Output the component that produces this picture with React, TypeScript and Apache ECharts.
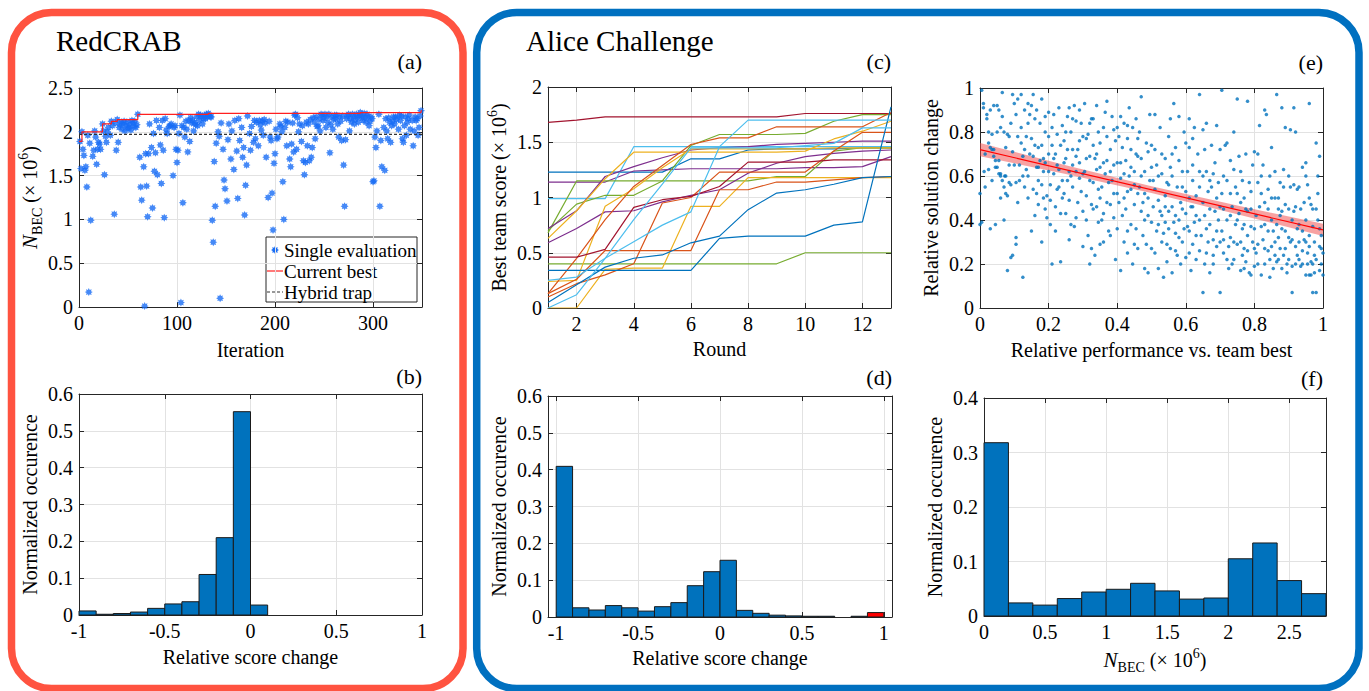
import React, { useEffect, useRef } from 'react';
import * as echarts from 'echarts';

const FONT = 'Liberation Serif, Times New Roman, serif';
const INK = '#262626';
const GRIDLINE = '#E2E2E2';
const BAR_BLUE = '#0072BD';
const EVAL_BLUE = '#176CF5';
const BEST_RED = '#FF2020';
const TRAP_GRAY = '#333333';
const FRAME_RED = '#FF5340';
const FRAME_BLUE = '#0070C0';

// ---------- (a) RedCRAB: single evaluations over iterations ----------
const redcrabEvals: [number, number][] = [
  [1, 1.89], [2, 1.58], [3, 2.0], [4, 1.8], [5, 1.73], [6, 1.56], [7, 1.6], [8, 1.37], [9, 1.96], [10, 0.17],
  [11, 1.87], [12, 0.99], [14, 1.72], [15, 1.79], [16, 2.01], [17, 1.94], [18, 1.63], [19, 1.8], [20, 1.88],
  [21, 1.86], [22, 1.8], [24, 2.09], [25, 2.01], [26, 1.51], [27, 1.95], [28, 1.88], [29, 2.0], [30, 2.05],
  [32, 1.96], [33, 2.12], [34, 2.07], [36, 1.06], [37, 2.1], [38, 1.79], [39, 2.14], [40, 1.88], [41, 2.05],
  [42, 2.08], [43, 2.11], [44, 2.03], [45, 2.09], [46, 2.12], [47, 2.01], [48, 2.07], [49, 2.11], [50, 2.04],
  [51, 2.05], [52, 2.09], [53, 2.02], [54, 2.13], [55, 2.1], [56, 2.06], [57, 2.12], [58, 2.05], [59, 2.08],
  [60, 2.2], [62, 1.71], [63, 1.37], [64, 1.22], [66, 1.6], [67, 0.01], [68, 1.75], [69, 1.38], [70, 1.03],
  [71, 1.75], [72, 2.09], [74, 1.82], [75, 1.13], [76, 1.98], [77, 1.55], [78, 1.76], [79, 2.13], [80, 1.51],
  [82, 2.05], [83, 1.85], [84, 1.41], [85, 2.13], [86, 1.79], [87, 1.02], [88, 2.15], [89, 2.02], [90, 1.98],
  [92, 2.06], [93, 2.07], [94, 2.09], [96, 1.5], [97, 2.05], [98, 2.07], [99, 1.8], [100, 1.65], [101, 1.79],
  [102, 1.98], [103, 2.19], [104, 0.05], [105, 2.07], [106, 1.19], [107, 2.05], [108, 1.94], [109, 2.12],
  [110, 2.03], [111, 1.77], [112, 2.13], [113, 1.89], [114, 2.16], [115, 2.1], [116, 2.13], [117, 2.01],
  [118, 2.1], [119, 2.08], [120, 2.17], [121, 2.07], [122, 2.2], [123, 2.13], [124, 2.19], [125, 2.17],
  [126, 2.09], [127, 2.15], [128, 2.19], [129, 2.15], [130, 2.2], [131, 2.17], [132, 2.21], [133, 2.19],
  [134, 2.17], [135, 2.17], [136, 0.99], [137, 0.74], [138, 1.66], [139, 1.15], [140, 1.87], [142, 2.0],
  [143, 1.95], [144, 0.1], [145, 2.1], [147, 1.8], [148, 1.45], [149, 1.35], [151, 1.21], [152, 1.91],
  [153, 2.09], [155, 1.69], [156, 2.01], [158, 1.57], [159, 2.13], [161, 1.78], [162, 1.24], [163, 2.15],
  [164, 1.9], [166, 2.05], [167, 1.71], [168, 1.82], [169, 1.05], [170, 1.39], [171, 1.62], [172, 2.18],
  [174, 1.98], [175, 1.79], [176, 2.06], [178, 1.88], [179, 2.13], [180, 1.92], [181, 2.11], [183, 1.84],
  [184, 2.13], [185, 2.08], [186, 2.02], [187, 2.12], [188, 1.96], [189, 2.14], [190, 2.1], [191, 1.71],
  [193, 1.25], [194, 2.12], [195, 1.94], [196, 1.9], [197, 1.3], [198, 0.88], [199, 1.64], [200, 1.75],
  [201, 2.03], [202, 1.92], [203, 1.94], [205, 2.09], [206, 2.06], [207, 2.0], [208, 1.43], [209, 1.0],
  [210, 2.05], [211, 2.12], [212, 1.84], [213, 2.11], [215, 1.69], [216, 1.6], [217, 1.86], [218, 2.1],
  [219, 1.77], [220, 2.19], [221, 2.2], [222, 1.8], [223, 2.16], [224, 2.0], [225, 2.09], [227, 1.89],
  [228, 2.07], [229, 1.67], [230, 1.51], [231, 1.65], [232, 2.11], [233, 1.84], [234, 2.09], [235, 1.67],
  [236, 2.14], [237, 1.71], [238, 1.82], [239, 2.16], [240, 2.11], [241, 1.92], [242, 2.17], [243, 2.06],
  [244, 2.07], [245, 2.14], [246, 2.01], [247, 2.2], [248, 2.19], [249, 2.13], [250, 2.16], [251, 2.2],
  [252, 2.05], [253, 2.17], [254, 2.11], [255, 2.2], [256, 1.76], [257, 2.08], [258, 2.17], [259, 2.03],
  [260, 2.14], [261, 2.19], [262, 2.15], [263, 2.19], [264, 2.09], [265, 1.94], [266, 2.17], [267, 2.12],
  [268, 1.9], [269, 2.18], [270, 1.62], [271, 1.15], [272, 1.91], [273, 2.15], [274, 2.18], [275, 2.2],
  [276, 2.01], [277, 2.15], [278, 2.11], [279, 2.2], [280, 2.17], [281, 2.09], [282, 2.14], [283, 2.2],
  [284, 2.17], [285, 2.11], [286, 2.18], [287, 2.22], [288, 2.19], [289, 2.16], [290, 2.13], [291, 2.21],
  [292, 2.16], [293, 2.11], [294, 2.2], [295, 2.17], [296, 2.07], [297, 2.12], [298, 2.17], [299, 2.15],
  [300, 1.43], [301, 1.44], [302, 1.94], [303, 1.82], [304, 2.01], [306, 2.2], [307, 1.15], [308, 1.9],
  [309, 1.6], [311, 2.05], [312, 1.56], [313, 2.15], [314, 2.01], [315, 1.92], [316, 2.16], [317, 2.11],
  [318, 1.88], [319, 2.07], [320, 2.12], [321, 2.17], [322, 2.09], [323, 2.17], [324, 2.14], [326, 2.03],
  [327, 2.19], [328, 2.13], [329, 2.18], [330, 1.92], [331, 1.88], [332, 2.07], [333, 2.17], [334, 1.96],
  [335, 2.11], [336, 2.15], [337, 2.19], [338, 2.03], [340, 2.13], [341, 1.84], [342, 2.01], [343, 2.17],
  [344, 2.13], [345, 2.15], [346, 1.96], [347, 2.05], [348, 2.18], [349, 2.24],
];
// best value found so far (step function)
const currentBest: [number, number][] = [
  [0, 1.89], [3, 2.0], [24, 2.09], [33, 2.12], [39, 2.14], [60, 2.2], [132, 2.21], [287, 2.22], [349, 2.24], [350, 2.24],
];
const hybridTrapLevel = 1.97;
const iterationTicks = [0, 100, 200, 300];
const legendLabels = ['Single evaluation', 'Current best', 'Hybrid trap'];

// ---------- histograms ----------
const scoreEdges = [-1, -0.9, -0.8, -0.7, -0.6, -0.5, -0.4, -0.3, -0.2, -0.1, 0, 0.1, 0.2, 0.3, 0.4, 0.5, 0.6, 0.7, 0.8, 0.9, 1];
// (b) RedCRAB relative score change
const redcrabScoreHist = [0.011, 0.002, 0.004, 0.008, 0.018, 0.03, 0.036, 0.11, 0.21, 0.552, 0.027, 0, 0, 0, 0, 0, 0, 0, 0, 0];
// (d) Alice Challenge relative score change
const aliceScoreHist = [0.409, 0.025, 0.019, 0.031, 0.025, 0.016, 0.028, 0.039, 0.085, 0.123, 0.154, 0.018, 0.01, 0.005, 0.003, 0.002, 0.002, 0, 0.002, 0.012];
const aliceHighlightBin = 19;
// (f) Alice Challenge N_BEC distribution
const nbecEdges = [0, 0.2, 0.4, 0.6, 0.8, 1.0, 1.2, 1.4, 1.6, 1.8, 2.0, 2.2, 2.4, 2.6, 2.8];
const nbecHist = [0.318, 0.024, 0.02, 0.032, 0.044, 0.049, 0.06, 0.046, 0.031, 0.033, 0.105, 0.134, 0.065, 0.041];

// ---------- (c) best team score per round ----------
const rounds = [1, 2, 3, 4, 5, 6, 7, 8, 9, 10, 11, 12, 13];
const teamScores: number[][] = [
  [1.68, 1.7, 1.73, 1.73, 1.73, 1.73, 1.73, 1.73, 1.73, 1.76, 1.76, 1.76, 1.76],
  [1.23, 1.23, 1.23, 1.23, 1.23, 1.35, 1.35, 1.43, 1.44, 1.44, 1.44, 1.45, 1.45],
  [1.14, 1.14, 1.14, 1.24, 1.25, 1.26, 1.26, 1.26, 1.26, 1.27, 1.27, 1.28, 1.37],
  [0.99, 0.99, 0.99, 1.46, 1.46, 1.46, 1.46, 1.46, 1.46, 1.46, 1.46, 1.46, 1.46],
  [0.4, 0.4, 0.4, 0.4, 0.4, 0.4, 0.4, 0.4, 0.4, 0.5, 0.5, 0.5, 0.5],
  [0.68, 1.15, 1.15, 1.15, 1.15, 1.15, 1.15, 1.15, 1.19, 1.19, 1.42, 1.45, 1.45],
  [0.7, 0.94, 1.02, 1.02, 1.15, 1.47, 1.57, 1.57, 1.57, 1.58, 1.69, 1.75, 1.75],
  [0.72, 0.88, 1.19, 1.28, 1.36, 1.43, 1.45, 1.46, 1.48, 1.49, 1.5, 1.51, 1.51],
  [0.59, 0.72, 0.87, 0.88, 0.96, 1.02, 1.07, 1.22, 1.31, 1.37, 1.4, 1.42, 1.43],
  [0.63, 0.88, 1.17, 1.41, 1.41, 1.41, 1.41, 1.41, 1.41, 1.42, 1.53, 1.6, 1.69],
  [0.24, 0.25, 0.92, 1.08, 1.27, 1.44, 1.44, 1.44, 1.44, 1.44, 1.45, 1.45, 1.45],
  [0.0, 0.0, 0.35, 0.36, 0.36, 0.92, 0.92, 1.18, 1.18, 1.18, 1.18, 1.18, 1.18],
  [0.13, 0.45, 0.8, 1.1, 1.29, 1.48, 1.54, 1.54, 1.64, 1.64, 1.64, 1.64, 1.77],
  [0.1, 0.22, 0.3, 0.4, 0.95, 1.0, 1.23, 1.23, 1.23, 1.23, 1.42, 1.59, 1.59],
  [0.13, 0.26, 0.52, 0.52, 0.52, 0.52, 1.07, 1.07, 1.14, 1.14, 1.16, 1.18, 1.19],
  [0.46, 0.46, 0.53, 0.91, 0.98, 1.01, 1.1, 1.32, 1.32, 1.32, 1.34, 1.34, 1.34],
  [0.34, 0.34, 0.34, 0.34, 0.34, 0.34, 0.63, 0.65, 0.65, 0.65, 0.75, 0.78, 1.82],
  [0.05, 0.21, 0.37, 0.45, 0.48, 0.59, 0.65, 0.89, 1.04, 1.07, 1.12, 1.18, 1.19],
  [0.25, 0.28, 0.45, 0.6, 0.75, 0.87, 1.46, 1.7, 1.7, 1.7, 1.7, 1.7, 1.7],
  [0.0, 0.12, 0.45, 0.8, 1.12, 1.45, 1.45, 1.45, 1.45, 1.47, 1.49, 1.63, 1.63],
];
const teamColors = [
  '#A2142F', '#0072BD', '#7E2F8E', '#4DBEEE', '#77AC30', '#77AC30', '#77AC30', '#7E2F8E', '#7E2F8E', '#EDB120',
  '#EDB120', '#EDB120', '#D95319', '#D95319', '#D95319', '#A2142F', '#0072BD', '#0072BD', '#4DBEEE', '#4DBEEE',
];
const roundTicks = [2, 4, 6, 8, 10, 12];

// ---------- (e) solution change vs relative performance ----------
const solutionChange: [number, number][] = [
  [0.005, 0.99], [0.01, 0.93], [0.01, 0.91], [0.02, 0.86], [0.025, 0.8], [0.03, 0.73], [0.035, 0.72], [0.04, 0.69],
  [0.045, 0.67], [0.05, 0.64], [0.055, 0.61], [0.06, 0.6], [0.065, 0.58], [0.07, 0.55], [0.075, 0.52], [0.08, 0.51],
  [0.0, 0.38], [0.005, 0.39], [0.03, 0.36], [0.045, 0.38], [0.07, 0.4], [0.08, 0.17], [0.09, 0.23], [0.095, 0.24],
  [0.065, 0.98], [0.07, 0.8], [0.08, 0.79], [0.085, 0.78], [0.09, 0.84], [0.095, 0.97], [0.1, 0.93], [0.06, 0.5],
  [0.072, 0.6], [0.075, 0.6], [0.085, 0.57], [0.095, 0.71], [0.02, 0.88], [0.03, 0.9], [0.035, 0.79], [0.04, 0.72],
  [0.045, 0.64], [0.05, 0.92], [0.055, 0.67], [0.06, 0.61], [0.065, 0.87], [0.075, 0.73], [0.085, 0.65], [0.09, 0.56],
  [0.015, 0.55], [0.025, 0.75], [0.05, 0.8], [0.0, 0.52], [0.012, 0.62], [0.04, 0.92],
  [0.015, 0.7], [0.025, 0.63], [0.035, 0.58], [0.055, 0.9], [0.06, 0.82], [0.1, 0.65],
  [0.105, 0.32], [0.105, 0.29], [0.11, 0.48], [0.11, 0.95], [0.12, 0.97], [0.115, 0.65], [0.12, 0.75], [0.125, 0.14],
  [0.13, 0.9], [0.13, 0.72], [0.135, 0.78], [0.14, 0.6], [0.14, 0.84], [0.145, 0.88], [0.15, 0.92], [0.155, 0.97],
  [0.155, 0.54], [0.16, 0.42], [0.165, 0.64], [0.165, 0.52], [0.17, 0.47], [0.17, 0.73], [0.175, 0.84], [0.18, 0.95],
  [0.18, 0.3], [0.185, 0.68], [0.19, 0.45], [0.19, 0.8], [0.195, 0.51], [0.2, 0.89], [0.2, 0.62], [0.12, 0.82],
  [0.125, 0.69], [0.145, 0.7], [0.16, 0.86], [0.175, 0.67], [0.185, 0.62], [0.195, 0.41], [0.105, 0.57], [0.11, 0.78],
  [0.13, 0.55], [0.135, 0.63], [0.14, 0.93], [0.15, 0.77], [0.155, 0.69], [0.165, 0.9], [0.17, 0.58], [0.18, 0.74],
  [0.19, 0.87], [0.2, 0.7], [0.185, 0.5], [0.15, 0.35],
  [0.105, 0.88], [0.115, 0.58], [0.125, 0.6], [0.14, 0.5], [0.16, 0.74], [0.17, 0.64], [0.18, 0.56], [0.19, 0.66],
  [0.2, 0.78],
  [0.205, 0.38], [0.21, 0.2], [0.21, 0.74], [0.215, 0.88], [0.22, 0.7], [0.22, 0.35], [0.225, 0.54], [0.23, 0.91],
  [0.23, 0.63], [0.235, 0.21], [0.24, 0.5], [0.24, 0.83], [0.245, 0.76], [0.25, 0.43], [0.25, 0.68], [0.255, 0.58],
  [0.26, 0.91], [0.26, 0.31], [0.265, 0.8], [0.27, 0.55], [0.27, 0.72], [0.275, 0.37], [0.28, 0.85], [0.28, 0.62],
  [0.285, 0.48], [0.29, 0.9], [0.29, 0.66], [0.295, 0.53], [0.3, 0.78], [0.3, 0.28], [0.215, 0.61], [0.225, 0.79],
  [0.245, 0.66], [0.255, 0.87], [0.265, 0.6], [0.285, 0.72], [0.3, 0.44], [0.22, 0.46], [0.205, 0.56], [0.21, 0.82],
  [0.225, 0.65], [0.235, 0.74], [0.24, 0.58], [0.25, 0.8], [0.26, 0.49], [0.27, 0.65], [0.275, 0.92], [0.28, 0.41],
  [0.29, 0.59], [0.295, 0.84], [0.235, 0.43], [0.265, 0.38],
  [0.205, 0.49], [0.215, 0.68], [0.23, 0.55], [0.245, 0.52], [0.255, 0.72], [0.26, 0.62], [0.27, 0.86], [0.28, 0.69],
  [0.29, 0.76], [0.3, 0.61],
  [0.305, 0.93], [0.31, 0.77], [0.31, 0.51], [0.315, 0.33], [0.32, 0.69], [0.32, 0.2], [0.325, 0.86], [0.33, 0.57],
  [0.33, 0.45], [0.335, 0.24], [0.34, 0.92], [0.34, 0.63], [0.345, 0.39], [0.35, 0.29], [0.35, 0.75], [0.355, 0.55],
  [0.36, 0.82], [0.36, 0.43], [0.365, 0.61], [0.37, 0.94], [0.37, 0.48], [0.375, 0.35], [0.38, 0.72], [0.38, 0.33],
  [0.385, 0.58], [0.39, 0.81], [0.39, 0.41], [0.395, 0.22], [0.4, 0.66], [0.4, 0.52], [0.315, 0.79], [0.335, 0.68],
  [0.355, 0.4], [0.37, 0.67], [0.385, 0.87], [0.395, 0.76], [0.325, 0.47], [0.345, 0.54], [0.305, 0.62], [0.31, 0.4],
  [0.32, 0.84], [0.33, 0.74], [0.34, 0.46], [0.35, 0.64], [0.36, 0.3], [0.365, 0.89], [0.375, 0.57], [0.38, 0.47],
  [0.39, 0.65], [0.4, 0.36], [0.345, 0.8], [0.325, 0.27],
  [0.31, 0.68], [0.32, 0.58], [0.33, 0.86], [0.34, 0.7], [0.35, 0.5], [0.36, 0.66], [0.37, 0.78], [0.38, 0.62],
  [0.39, 0.52], [0.4, 0.82],
  [0.405, 0.78], [0.41, 0.17], [0.41, 0.59], [0.415, 0.42], [0.42, 0.84], [0.42, 0.3], [0.425, 0.67], [0.43, 0.53],
  [0.43, 0.25], [0.435, 0.91], [0.44, 0.72], [0.44, 0.38], [0.445, 0.2], [0.45, 0.62], [0.45, 0.47], [0.455, 0.86],
  [0.46, 0.27], [0.46, 0.69], [0.465, 0.55], [0.47, 0.96], [0.47, 0.44], [0.475, 0.33], [0.48, 0.62], [0.48, 0.18],
  [0.485, 0.75], [0.49, 0.5], [0.49, 0.16], [0.495, 0.88], [0.5, 0.39], [0.5, 0.64], [0.415, 0.73], [0.435, 0.6],
  [0.455, 0.36], [0.465, 0.8], [0.475, 0.48], [0.485, 0.29], [0.495, 0.58], [0.425, 0.45], [0.405, 0.48], [0.41, 0.87],
  [0.42, 0.61], [0.43, 0.77], [0.44, 0.54], [0.45, 0.29], [0.455, 0.7], [0.46, 0.52], [0.47, 0.68], [0.48, 0.4],
  [0.49, 0.71], [0.5, 0.27], [0.445, 0.82], [0.43, 0.35],
  [0.41, 0.66], [0.42, 0.5], [0.43, 0.83], [0.44, 0.64], [0.45, 0.56], [0.46, 0.77], [0.47, 0.6], [0.48, 0.52],
  [0.49, 0.42], [0.5, 0.74],
  [0.505, 0.46], [0.51, 0.25], [0.51, 0.72], [0.515, 0.35], [0.52, 0.6], [0.52, 0.18], [0.525, 0.82], [0.53, 0.42],
  [0.53, 0.3], [0.535, 0.14], [0.54, 0.68], [0.54, 0.51], [0.545, 0.21], [0.55, 0.78], [0.55, 0.36], [0.555, 0.64],
  [0.56, 0.46], [0.56, 0.16], [0.565, 0.93], [0.57, 0.73], [0.57, 0.26], [0.575, 0.55], [0.58, 0.32], [0.58, 0.87],
  [0.585, 0.2], [0.59, 0.62], [0.59, 0.45], [0.595, 0.36], [0.6, 0.75], [0.6, 0.23], [0.515, 0.65], [0.535, 0.34],
  [0.545, 0.57], [0.565, 0.39], [0.575, 0.24], [0.585, 0.48], [0.525, 0.44], [0.555, 0.27], [0.505, 0.58], [0.51, 0.88],
  [0.52, 0.49], [0.53, 0.7], [0.54, 0.39], [0.55, 0.56], [0.555, 0.86], [0.56, 0.6], [0.57, 0.42], [0.58, 0.67],
  [0.59, 0.3], [0.6, 0.53], [0.545, 0.29], [0.595, 0.8],
  [0.51, 0.54], [0.52, 0.38], [0.53, 0.61], [0.54, 0.46], [0.55, 0.44], [0.56, 0.7], [0.57, 0.34], [0.58, 0.4],
  [0.59, 0.55], [0.6, 0.43],
  [0.605, 0.37], [0.61, 0.86], [0.61, 0.5], [0.615, 0.17], [0.62, 0.65], [0.62, 0.29], [0.625, 0.82], [0.63, 0.42],
  [0.63, 0.22], [0.635, 0.7], [0.64, 0.55], [0.64, 0.97], [0.645, 0.33], [0.65, 0.6], [0.65, 0.07], [0.655, 0.42],
  [0.66, 0.84], [0.66, 0.25], [0.665, 0.53], [0.67, 0.38], [0.67, 0.16], [0.675, 0.74], [0.68, 0.61], [0.68, 0.2],
  [0.685, 0.44], [0.69, 0.83], [0.69, 0.28], [0.695, 0.57], [0.7, 0.07], [0.7, 0.72], [0.61, 0.73], [0.625, 0.39],
  [0.64, 0.26], [0.655, 0.72], [0.67, 0.45], [0.68, 0.31], [0.695, 0.4], [0.62, 0.58], [0.605, 0.62], [0.61, 0.35],
  [0.62, 0.77], [0.63, 0.51], [0.64, 0.4], [0.65, 0.81], [0.655, 0.2], [0.66, 0.62], [0.665, 0.3], [0.675, 0.55],
  [0.685, 0.66], [0.69, 0.35], [0.7, 0.46], [0.615, 0.46],
  [0.61, 0.25], [0.62, 0.46], [0.63, 0.33], [0.64, 0.62], [0.65, 0.48], [0.66, 0.36], [0.67, 0.58], [0.68, 0.24],
  [0.69, 0.5], [0.7, 0.3],
  [0.705, 0.52], [0.705, 0.99], [0.71, 0.25], [0.715, 0.74], [0.72, 0.4], [0.72, 0.58], [0.725, 0.18], [0.73, 0.67],
  [0.73, 0.32], [0.735, 0.46], [0.74, 0.8], [0.74, 0.22], [0.745, 0.55], [0.75, 0.95], [0.75, 0.29], [0.755, 0.43],
  [0.76, 0.62], [0.76, 0.17], [0.765, 0.36], [0.77, 0.5], [0.77, 0.27], [0.775, 0.21], [0.78, 0.94], [0.78, 0.33],
  [0.785, 0.57], [0.79, 0.15], [0.79, 0.45], [0.795, 0.3], [0.8, 0.71], [0.8, 0.19], [0.71, 0.6], [0.725, 0.28],
  [0.745, 0.38], [0.755, 0.69], [0.765, 0.24], [0.775, 0.45], [0.785, 0.16], [0.795, 0.65], [0.705, 0.35], [0.71, 0.45],
  [0.72, 0.75], [0.73, 0.52], [0.735, 0.2], [0.74, 0.63], [0.75, 0.4], [0.76, 0.48], [0.765, 0.58], [0.77, 0.38],
  [0.78, 0.26], [0.79, 0.53], [0.8, 0.36], [0.775, 0.7],
  [0.71, 0.31], [0.72, 0.22], [0.73, 0.42], [0.74, 0.3], [0.75, 0.52], [0.76, 0.3], [0.77, 0.18], [0.78, 0.44],
  [0.79, 0.37], [0.8, 0.27],
  [0.805, 0.42], [0.81, 0.57], [0.81, 0.29], [0.815, 0.83], [0.82, 0.37], [0.82, 0.15], [0.825, 0.65], [0.83, 0.48],
  [0.83, 0.2], [0.835, 0.88], [0.84, 0.54], [0.84, 0.26], [0.845, 0.14], [0.85, 0.73], [0.85, 0.4], [0.855, 0.18],
  [0.86, 0.62], [0.86, 0.3], [0.865, 0.97], [0.87, 0.45], [0.87, 0.22], [0.875, 0.57], [0.88, 0.36], [0.88, 0.91],
  [0.885, 0.24], [0.89, 0.82], [0.89, 0.47], [0.895, 0.16], [0.9, 0.6], [0.9, 0.32], [0.815, 0.46], [0.825, 0.31],
  [0.845, 0.6], [0.855, 0.35], [0.865, 0.21], [0.875, 0.42], [0.885, 0.55], [0.895, 0.2], [0.83, 0.9], [0.87, 0.5],
  [0.805, 0.25], [0.81, 0.7], [0.82, 0.52], [0.83, 0.38], [0.84, 0.45], [0.85, 0.28], [0.86, 0.5], [0.865, 0.38],
  [0.875, 0.27], [0.88, 0.44], [0.89, 0.35], [0.9, 0.45], [0.845, 0.22], [0.885, 0.63],
  [0.81, 0.2], [0.82, 0.6], [0.83, 0.27], [0.84, 0.35], [0.85, 0.5], [0.86, 0.24], [0.87, 0.32], [0.88, 0.18],
  [0.89, 0.27], [0.9, 0.22],
  [0.905, 0.55], [0.905, 0.81], [0.91, 0.19], [0.915, 0.91], [0.915, 0.44], [0.92, 0.28], [0.92, 0.8], [0.925, 0.54],
  [0.93, 0.22], [0.93, 0.38], [0.935, 0.19], [0.94, 0.64], [0.94, 0.26], [0.945, 0.48], [0.95, 0.15], [0.95, 0.6],
  [0.955, 0.25], [0.96, 0.93], [0.96, 0.33], [0.965, 0.47], [0.97, 0.07], [0.97, 0.2], [0.975, 0.3], [0.98, 0.75],
  [0.98, 0.07], [0.985, 0.4], [0.99, 0.17], [0.99, 0.69], [0.995, 0.33], [1.0, 0.25], [1.0, 0.15], [0.995, 0.27],
  [0.91, 0.07], [0.925, 0.36], [0.945, 0.31], [0.955, 0.56], [0.965, 0.21], [0.975, 0.16], [0.985, 0.6], [0.935, 0.45],
  [0.905, 0.3], [0.91, 0.4], [0.92, 0.46], [0.925, 0.24], [0.93, 0.55], [0.94, 0.35], [0.95, 0.4], [0.955, 0.2],
  [0.96, 0.5], [0.97, 0.37], [0.975, 0.24], [0.98, 0.45], [0.99, 0.28], [0.995, 0.2], [0.96, 0.15],
  [0.91, 0.31], [0.92, 0.2], [0.93, 0.3], [0.94, 0.2], [0.95, 0.3], [0.96, 0.28], [0.97, 0.45], [0.98, 0.22],
  [0.99, 0.36], [0.95, 0.66], [0.915, 0.56], [0.985, 0.52], [0.965, 0.15],
];
// linear fit and its confidence band
const fitX = [0, 1];
const fitY = [0.72, 0.355];
const bandX = [0, 0.25, 0.5, 0.75, 1];
const bandLow = [0.69, 0.609, 0.523, 0.426, 0.327];
const bandHigh = [0.75, 0.649, 0.553, 0.466, 0.383];

// ---------- layout helpers ----------
type GridBox = { left: number; top: number; width: number; height: number };
const GRIDS: GridBox[] = [
  { left: 79, top: 88, width: 343, height: 219 }, // a
  { left: 79, top: 394, width: 343, height: 221 }, // b
  { left: 548, top: 87, width: 343, height: 221 }, // c
  { left: 548, top: 396, width: 344, height: 221 }, // d
  { left: 980, top: 88, width: 343, height: 220 }, // e
  { left: 984, top: 398, width: 342, height: 218 }, // f
];

const RICH = {
  it: { fontFamily: FONT, fontStyle: 'italic', fontSize: 21, lineHeight: 28, color: '#000' },
  sub: { fontFamily: FONT, fontSize: 14, lineHeight: 14, verticalAlign: 'bottom', color: '#000' },
  sup: { fontFamily: FONT, fontSize: 14, lineHeight: 14, verticalAlign: 'top', color: '#000' },
};
const NAME_STYLE = { fontFamily: FONT, fontSize: 20, color: '#000', lineHeight: 28, rich: RICH };

type AxisSpec = { min: number; max: number; interval?: number; ticks?: number[]; name: string; gap: number };

function valueAxis(g: number, s: AxisSpec, dim: 'x' | 'y', main: boolean) {
  const custom = s.ticks ? { customValues: s.ticks } : {};
  return {
    type: 'value',
    gridIndex: g,
    position: dim === 'x' ? (main ? 'bottom' : 'top') : main ? 'left' : 'right',
    min: s.min,
    max: s.max,
    ...(s.interval ? { interval: s.interval } : {}),
    axisLine: { show: true, onZero: false, lineStyle: { color: INK, width: 1 } },
    axisTick: { show: true, inside: true, length: 5, lineStyle: { color: INK, width: 1 }, ...custom },
    axisLabel: {
      show: main,
      margin: 6,
      color: '#000',
      fontFamily: FONT,
      fontSize: 20,
      ...custom,
    },
    splitLine: { show: main, lineStyle: { color: GRIDLINE, width: 1 } },
    name: main ? s.name : '',
    nameLocation: 'middle',
    nameGap: s.gap,
    nameTextStyle: NAME_STYLE,
  };
}

const NBEC_NAME = '{it|N}{sub|BEC} (× 10{sup|6})';

const X_SPECS: AxisSpec[] = [
  { min: 0, max: 350, ticks: iterationTicks, name: 'Iteration', gap: 29 },
  { min: -1, max: 1, interval: 0.5, name: 'Relative score change', gap: 28 },
  { min: 1, max: 13, ticks: roundTicks, name: 'Round', gap: 26 },
  { min: -1.05, max: 1.05, ticks: [-1, -0.5, 0, 0.5, 1], name: 'Relative score change', gap: 27 },
  { min: 0, max: 1, interval: 0.2, name: 'Relative performance vs. team best', gap: 28 },
  { min: 0, max: 2.8, ticks: [0, 0.5, 1, 1.5, 2, 2.5], name: NBEC_NAME, gap: 30 },
];
const Y_SPECS: AxisSpec[] = [
  { min: 0, max: 2.5, interval: 0.5, name: NBEC_NAME, gap: 31 },
  { min: 0, max: 0.6, interval: 0.1, name: 'Normalized occurence', gap: 29 },
  { min: 0, max: 2, interval: 0.5, name: 'Best team score (× 10{sup|6})', gap: 29 },
  { min: 0, max: 0.6, interval: 0.1, name: 'Normalized occurence', gap: 29 },
  { min: 0, max: 1, interval: 0.2, name: 'Relative solution change', gap: 28 },
  { min: 0, max: 0.4, interval: 0.1, name: 'Normalized occurence', gap: 28 },
];

// eight-pointed star marker (20x20 box)
const STAR_PTS: [number, number][] = [
  [10, 0], [12.3, 4.46], [17.07, 2.93], [15.54, 7.7], [20, 10], [15.54, 12.3], [17.07, 17.07], [12.3, 15.54],
  [10, 20], [7.7, 15.54], [2.93, 17.07], [4.46, 12.3], [0, 10], [4.46, 7.7], [2.93, 2.93], [7.7, 4.46],
];
const STAR = 'path://M' + STAR_PTS.map((p) => p.join(' ')).join('L') + 'Z';

function histogramSeries(g: number, edges: number[], heights: number[], highlight?: number) {
  return {
    type: 'custom',
    xAxisIndex: g * 2,
    yAxisIndex: g * 2,
    silent: true,
    encode: { x: [0, 1], y: 2 },
    data: heights.map((h, i) => ({
      value: [edges[i], edges[i + 1], h],
      itemStyle: { color: i === highlight ? '#FF0000' : BAR_BLUE },
    })),
    renderItem: (_p: any, api: any) => {
      const h = api.value(2);
      if (h <= 0) return null;
      const tl = api.coord([api.value(0), h]);
      const br = api.coord([api.value(1), 0]);
      return {
        type: 'rect',
        shape: { x: tl[0], y: tl[1], width: br[0] - tl[0], height: br[1] - tl[1] },
        style: { fill: api.visual('color'), stroke: '#1A1A1A', lineWidth: 1 },
      };
    },
  };
}

function panelLabel(text: string, x: number, y: number) {
  return {
    type: 'text',
    x,
    y,
    style: { text, fill: '#000', fontFamily: FONT, fontSize: 22, align: 'right', verticalAlign: 'middle' },
  };
}

// boxed legend of panel (a)
function legendGraphic() {
  const L = 266;
  const T = 237;
  const rowY = [T + 13, T + 34, T + 55];
  const keyX0 = L + 1;
  const keyX1 = L + 17;
  const textStyle = { fill: '#000', fontFamily: FONT, fontSize: 19, verticalAlign: 'middle' };
  const s = 0.4;
  return {
    type: 'group',
    z: 100,
    children: [
      { type: 'rect', shape: { x: L, y: T, width: 151, height: 65 }, style: { fill: '#fff', stroke: INK, lineWidth: 1 } },
      {
        type: 'polygon',
        shape: { points: STAR_PTS.map(([x, y]) => [(keyX0 + keyX1) / 2 - 10 * s + x * s, rowY[0] - 10 * s + y * s]) },
        style: { fill: EVAL_BLUE },
      },
      { type: 'line', shape: { x1: keyX0, y1: rowY[1], x2: keyX1, y2: rowY[1] }, style: { stroke: BEST_RED, lineWidth: 1.2 } },
      {
        type: 'line',
        shape: { x1: keyX0, y1: rowY[2], x2: keyX1, y2: rowY[2] },
        style: { stroke: TRAP_GRAY, lineWidth: 1.2, lineDash: [3, 2] },
      },
      ...legendLabels.map((t, i) => ({ type: 'text', x: keyX1 + 1, y: rowY[i], style: { ...textStyle, text: t } })),
    ],
  };
}

function buildOption() {
  const xAxis: any[] = [];
  const yAxis: any[] = [];
  GRIDS.forEach((_g, i) => {
    xAxis.push(valueAxis(i, X_SPECS[i], 'x', true), valueAxis(i, X_SPECS[i], 'x', false));
    yAxis.push(valueAxis(i, Y_SPECS[i], 'y', true), valueAxis(i, Y_SPECS[i], 'y', false));
  });

  const series: any[] = [
    {
      name: legendLabels[0],
      type: 'scatter',
      xAxisIndex: 0,
      yAxisIndex: 0,
      data: redcrabEvals,
      symbol: STAR,
      symbolSize: 8,
      symbolKeepAspect: true,
      itemStyle: { color: EVAL_BLUE },
      silent: true,
    },
    {
      name: legendLabels[1],
      type: 'line',
      xAxisIndex: 0,
      yAxisIndex: 0,
      data: currentBest,
      step: 'end',
      symbol: 'none',
      lineStyle: { color: BEST_RED, width: 1.2 },
      silent: true,
    },
    {
      name: legendLabels[2],
      type: 'line',
      xAxisIndex: 0,
      yAxisIndex: 0,
      data: [
        [0, hybridTrapLevel],
        [350, hybridTrapLevel],
      ],
      symbol: 'none',
      lineStyle: { color: TRAP_GRAY, width: 1.2, type: [3, 2] },
      silent: true,
    },
    histogramSeries(1, scoreEdges, redcrabScoreHist),
    histogramSeries(3, scoreEdges, aliceScoreHist, aliceHighlightBin),
    histogramSeries(5, nbecEdges, nbecHist),
  ];

  teamScores.forEach((scores, t) => {
    series.push({
      type: 'line',
      xAxisIndex: 4,
      yAxisIndex: 4,
      data: rounds.map((r, i) => [r, scores[i]]),
      symbol: 'none',
      lineStyle: { color: teamColors[t], width: 1.2 },
      silent: true,
    });
  });

  series.push(
    {
      type: 'scatter',
      xAxisIndex: 8,
      yAxisIndex: 8,
      data: solutionChange,
      symbolSize: 3.5,
      itemStyle: { color: BAR_BLUE },
      silent: true,
    },
    {
      type: 'custom',
      xAxisIndex: 8,
      yAxisIndex: 8,
      silent: true,
      encode: { x: 0, y: [1, 2] },
      data: [[bandX[0], bandLow[0], bandHigh[0]]],
      renderItem: (_p: any, api: any) => {
        const pts: number[][] = [];
        bandX.forEach((x, i) => pts.push(api.coord([x, bandHigh[i]])));
        for (let i = bandX.length - 1; i >= 0; i--) pts.push(api.coord([bandX[i], bandLow[i]]));
        return { type: 'polygon', shape: { points: pts }, style: { fill: 'rgba(240,70,70,0.5)' } };
      },
    },
    {
      type: 'line',
      xAxisIndex: 8,
      yAxisIndex: 8,
      data: fitX.map((x, i) => [x, fitY[i]]),
      symbol: 'none',
      lineStyle: { color: '#FF0000', width: 1.2 },
      silent: true,
    }
  );

  return {
    animation: false,
    backgroundColor: '#ffffff',
    textStyle: { fontFamily: FONT },
    grid: GRIDS.map((g) => ({ ...g, show: false, containLabel: false, outerBoundsMode: 'none' })),
    xAxis,
    yAxis,
    graphic: [
      {
        type: 'rect',
        shape: { x: 11.5, y: 12.5, width: 451.5, height: 676, r: 40 },
        style: { fill: 'none', stroke: FRAME_RED, lineWidth: 7.5 },
        z: -1,
      },
      {
        type: 'rect',
        shape: { x: 476.7, y: 12.5, width: 882.3, height: 676, r: 40 },
        style: { fill: 'none', stroke: FRAME_BLUE, lineWidth: 7.5 },
        z: -1,
      },
      {
        type: 'text',
        x: 56,
        y: 41,
        style: { text: 'RedCRAB', fill: '#000', fontFamily: FONT, fontSize: 29, verticalAlign: 'middle' },
      },
      {
        type: 'text',
        x: 526,
        y: 41,
        style: { text: 'Alice Challenge', fill: '#000', fontFamily: FONT, fontSize: 29, verticalAlign: 'middle' },
      },
      panelLabel('(a)', 422, 61),
      panelLabel('(b)', 422, 376),
      panelLabel('(c)', 891, 61),
      panelLabel('(d)', 892, 377),
      panelLabel('(e)', 1323, 62),
      panelLabel('(f)', 1323, 378),
      legendGraphic(),
    ],
    series,
  };
}

export default function App() {
  const ref = useRef<HTMLDivElement>(null);
  useEffect(() => {
    if (!ref.current) return;
    const chart = echarts.init(ref.current, undefined, { renderer: 'svg' });
    chart.setOption(buildOption() as any);
    return () => chart.dispose();
  }, []);
  return (
    <div
      ref={ref}
      style={{ position: 'fixed', left: 0, top: 0, width: 1369, height: 691, background: '#fff' }}
    />
  );
}
